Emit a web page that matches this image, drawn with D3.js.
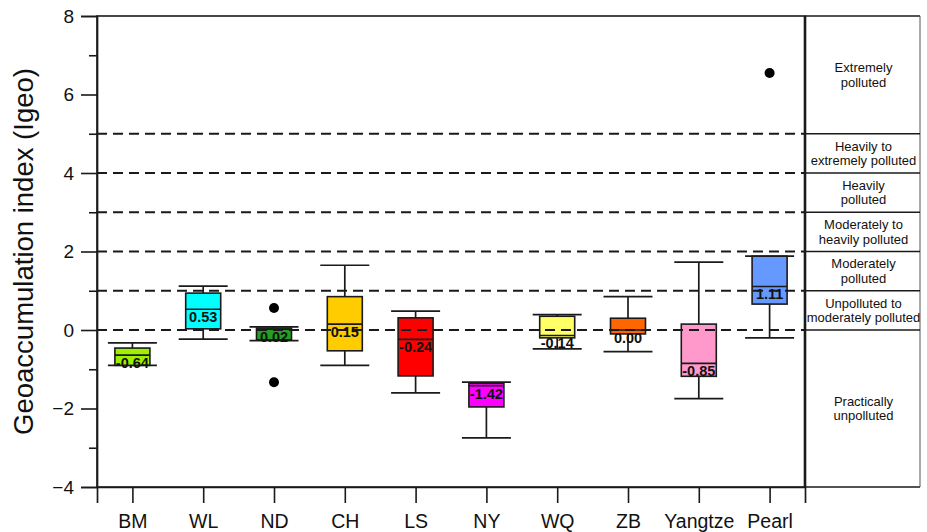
<!DOCTYPE html>
<html>
<head>
<meta charset="utf-8">
<script src="https://cdn.jsdelivr.net/npm/d3@7"></script>
<style>
  html, body { margin: 0; padding: 0; background: #fff; }
  svg { display: block; font-family: Arial, "Liberation Sans", sans-serif; }
</style>
</head>
<body>
<svg id="chart" width="927" height="532"></svg>
<script>
// Sites along the x axis
const categories = ["BM", "WL", "ND", "CH", "LS", "NY", "WQ", "ZB", "Yangtze", "Pearl"];

// Box-plot statistics of Igeo per site
const whiskerHigh = [-0.33, 1.12, 0.08, 1.65, 0.48, -1.33, 0.39, 0.85, 1.73, 1.88];
const upperQuartile = [-0.46, 0.94, 0.05, 0.85, 0.31, -1.36, 0.35, 0.30, 0.15, 1.88];
const medians = [-0.64, 0.53, 0.02, 0.15, -0.24, -1.42, -0.14, 0.00, -0.85, 1.11];
const lowerQuartile = [-0.90, 0.03, -0.25, -0.53, -1.17, -1.96, -0.20, -0.10, -1.18, 0.66];
const whiskerLow = [-0.90, -0.23, -0.27, -0.90, -1.60, -2.75, -0.48, -0.55, -1.75, -0.20];
const boxColors = ["#9ff000", "#00ffff", "#22a022", "#ffcc00", "#ff0000",
                   "#ff00ff", "#ffff66", "#ff6600", "#ff99cc", "#6699ff"];

// Outliers: site and value
const outlierSites = ["ND", "ND", "Pearl"];
const outlierValues = [0.56, -1.33, 6.55];

// Igeo class thresholds (dashed lines) and class bands on the right
const thresholds = [0, 1, 2, 3, 4, 5];
const classLower = [-4, 0, 1, 2, 3, 4, 5];
const classUpper = [0, 1, 2, 3, 4, 5, 8];
const classNames = [
  ["Practically", "unpolluted"],
  ["Unpolluted to", "moderately polluted"],
  ["Moderately", "polluted"],
  ["Moderately to", "heavily polluted"],
  ["Heavily", "polluted"],
  ["Heavily to", "extremely polluted"],
  ["Extremely", "polluted"]
];

// Axis ticks
const majorTicks = [-4, -2, 0, 2, 4, 6, 8];
const minorTicks = [-3, -1, 1, 3, 5, 7];

const svg = d3.select("#chart");
const plotLeft = 97, plotRight = 805, plotTop = 16, plotBottom = 487, panelRight = 920;
const ink = "#1a1a1a";

const x = d3.scalePoint().domain(categories).range([plotLeft, plotRight]).padding(0.5);
const y = d3.scaleLinear().domain([-4, 8]).range([plotBottom, plotTop]);

const boxW = 35, capW = 49;

// Frame
svg.append("rect")
  .attr("x", plotLeft).attr("y", plotTop)
  .attr("width", plotRight - plotLeft).attr("height", plotBottom - plotTop)
  .attr("fill", "none").attr("stroke", ink).attr("stroke-width", 1.6);

// Boxes
const data = categories.map((c, i) => ({
  c, hi: whiskerHigh[i], q3: upperQuartile[i], med: medians[i],
  q1: lowerQuartile[i], lo: whiskerLow[i], color: boxColors[i]
}));

const g = svg.append("g");
const box = g.selectAll("g.box").data(data).join("g").attr("class", "box");

box.append("line")
  .attr("x1", d => x(d.c)).attr("x2", d => x(d.c))
  .attr("y1", d => y(d.hi)).attr("y2", d => y(d.lo))
  .attr("stroke", ink).attr("stroke-width", 1.7);
box.append("line")
  .attr("x1", d => x(d.c) - capW / 2).attr("x2", d => x(d.c) + capW / 2)
  .attr("y1", d => y(d.hi)).attr("y2", d => y(d.hi))
  .attr("stroke", ink).attr("stroke-width", 1.7);
box.append("line")
  .attr("x1", d => x(d.c) - capW / 2).attr("x2", d => x(d.c) + capW / 2)
  .attr("y1", d => y(d.lo)).attr("y2", d => y(d.lo))
  .attr("stroke", ink).attr("stroke-width", 1.7);
box.append("rect")
  .attr("x", d => x(d.c) - boxW / 2).attr("width", boxW)
  .attr("y", d => y(d.q3)).attr("height", d => y(d.q1) - y(d.q3))
  .attr("fill", d => d.color).attr("stroke", ink).attr("stroke-width", 1.6);
box.append("line")
  .attr("x1", d => x(d.c) - boxW / 2).attr("x2", d => x(d.c) + boxW / 2)
  .attr("y1", d => y(d.med)).attr("y2", d => y(d.med))
  .attr("stroke", ink).attr("stroke-width", 1.6);
box.append("text")
  .attr("x", d => x(d.c)).attr("y", d => y(d.med) + 13)
  .attr("text-anchor", "middle")
  .attr("font-size", 14.5).attr("font-weight", "bold").attr("fill", "#111")
  .text(d => d.med.toFixed(2));

// Outliers
g.selectAll("circle.outlier").data(outlierValues).join("circle")
  .attr("class", "outlier")
  .attr("cx", (v, i) => x(outlierSites[i])).attr("cy", v => y(v))
  .attr("r", 5).attr("fill", "#000");

// Class thresholds
svg.append("g").selectAll("line").data(thresholds).join("line")
  .attr("x1", plotLeft).attr("x2", plotRight)
  .attr("y1", d => y(d)).attr("y2", d => y(d))
  .attr("stroke", ink).attr("stroke-width", 1.8)
  .attr("stroke-dasharray", "10,6");

// Y axis: labelled major ticks and short minor ticks
const yAxis = svg.append("g").attr("transform", `translate(${plotLeft},0)`)
  .call(d3.axisLeft(y).tickValues(majorTicks).tickSize(16).tickPadding(7)
    .tickFormat(d3.format("d")));
yAxis.select(".domain").attr("stroke", ink).attr("stroke-width", 1.7);
yAxis.selectAll(".tick line").attr("stroke", ink).attr("stroke-width", 1.6);
yAxis.selectAll(".tick text").attr("font-size", 19).attr("fill", "#111")
  .attr("font-family", "Arial, 'Liberation Sans', sans-serif");

const yMinor = svg.append("g").attr("transform", `translate(${plotLeft},0)`)
  .call(d3.axisLeft(y).tickValues(minorTicks).tickSize(8).tickFormat(""));
yMinor.select(".domain").remove();
yMinor.selectAll(".tick line").attr("stroke", ink).attr("stroke-width", 1.6);

// X axis
const xAxis = svg.append("g").attr("transform", `translate(0,${plotBottom})`)
  .call(d3.axisBottom(x).tickSize(16).tickPadding(11));
xAxis.select(".domain").attr("stroke", ink).attr("stroke-width", 1.7);
xAxis.selectAll(".tick line").attr("stroke", ink).attr("stroke-width", 1.6);
xAxis.selectAll(".tick text").attr("font-size", 19.5).attr("fill", "#111")
  .attr("font-family", "Arial, 'Liberation Sans', sans-serif");

// Y axis title
svg.append("text")
  .attr("transform", `translate(33,${(plotTop + plotBottom) / 2}) rotate(-90)`)
  .attr("text-anchor", "middle")
  .attr("font-size", 27.5).attr("fill", "#111")
  .text("Geoaccumulation index (Igeo)");

// Class panel on the right
const panel = svg.append("g");
panel.append("line")
  .attr("x1", plotRight).attr("x2", panelRight).attr("y1", plotTop).attr("y2", plotTop)
  .attr("stroke", ink).attr("stroke-width", 1.6);
panel.append("line")
  .attr("x1", plotRight).attr("x2", panelRight).attr("y1", plotBottom).attr("y2", plotBottom)
  .attr("stroke", ink).attr("stroke-width", 1.6);
panel.append("line")
  .attr("x1", panelRight).attr("x2", panelRight).attr("y1", plotTop).attr("y2", plotBottom)
  .attr("stroke", "#555").attr("stroke-width", 1);
panel.append("line")
  .attr("x1", plotRight).attr("x2", plotRight).attr("y1", plotTop).attr("y2", plotBottom)
  .attr("stroke", ink).attr("stroke-width", 2.6);
panel.selectAll("line.sep").data(thresholds).join("line")
  .attr("class", "sep")
  .attr("x1", plotRight).attr("x2", panelRight)
  .attr("y1", d => y(d)).attr("y2", d => y(d))
  .attr("stroke", ink).attr("stroke-width", 1.4);

const cx = (plotRight + panelRight) / 2 + 1;
classNames.forEach((lines, i) => {
  const mid = (y(classLower[i]) + y(classUpper[i])) / 2;
  lines.forEach((t, k) => {
    panel.append("text")
      .attr("x", cx).attr("y", mid + (k - (lines.length - 1) / 2) * 14.5)
      .attr("dy", "0.35em")
      .attr("text-anchor", "middle")
      .attr("font-size", 13).attr("fill", "#111")
      .text(t);
  });
});
</script>
</body>
</html>
